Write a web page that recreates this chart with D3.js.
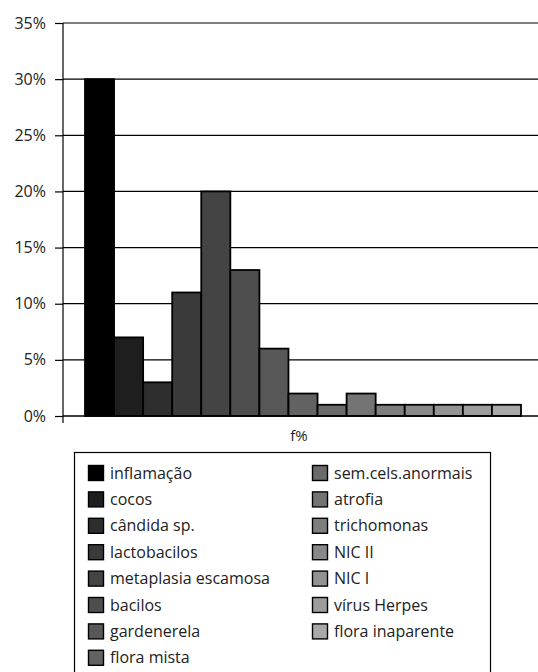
<!DOCTYPE html>
<html>
<head>
<meta charset="utf-8">
<script src="https://cdn.jsdelivr.net/npm/d3@7"></script>
<style>
  html, body { margin: 0; padding: 0; background: #fff; }
  svg { display: block; font-family: "Open Sans", "DejaVu Sans", sans-serif; }
</style>
</head>
<body>
<svg id="chart" width="538" height="672"></svg>
<script>
// Findings (percent of cases)
const categories = [
  "inflamação", "cocos", "cândida sp.", "lactobacilos", "metaplasia escamosa",
  "bacilos", "gardenerela", "flora mista", "sem.cels.anormais", "atrofia",
  "trichomonas", "NIC II", "NIC I", "vírus Herpes", "flora inaparente"
];
const values = [30, 7, 3, 11, 20, 13, 6, 2, 1, 2, 1, 1, 1, 1, 1];
const fills = [
  "#000000", "#1e1e1e", "#2e2e2e", "#3a3a3a", "#444444",
  "#4e4e4e", "#585858", "#626262", "#6a6a6a", "#747474",
  "#7e7e7e", "#898989", "#939393", "#9d9d9d", "#a8a8a8"
];
const yTicks = [0, 5, 10, 15, 20, 25, 30, 35];
const axisTitle = "f%";

const FONT = "'Open Sans', 'DejaVu Sans', sans-serif";
const svg = d3.select("#chart");
const plot = { left: 63, right: 538, top: 23, bottom: 416 };

const y = d3.scaleLinear().domain([0, 35]).range([plot.bottom, plot.top]);
const x = d3.scaleBand().domain(categories).range([85, 521]).padding(0);

// horizontal gridlines
svg.append("g")
  .selectAll("line")
  .data(yTicks.filter(t => t > 0))
  .join("line")
  .attr("x1", plot.left).attr("x2", plot.right)
  .attr("y1", d => y(d)).attr("y2", d => y(d))
  .attr("stroke", "#000").attr("stroke-width", 1.2);

// y axis
const yAxis = d3.axisLeft(y)
  .tickValues(yTicks)
  .tickFormat(d => d + "%")
  .tickSize(8)
  .tickPadding(9);
const gy = svg.append("g").attr("transform", `translate(${plot.left},0)`).call(yAxis);
gy.select(".domain").remove();
gy.selectAll(".tick line").attr("stroke", "#000").attr("stroke-width", 1.2);
gy.selectAll(".tick text")
  .attr("fill", "#222").style("font-size", "16px")
  .style("font-family", FONT);

svg.append("line")
  .attr("x1", plot.left).attr("x2", plot.left)
  .attr("y1", plot.top).attr("y2", plot.bottom + 7)
  .attr("stroke", "#000").attr("stroke-width", 1.2);

// bars
svg.append("g")
  .selectAll("rect")
  .data(categories)
  .join("rect")
  .attr("x", d => x(d))
  .attr("width", x.bandwidth())
  .attr("y", (d, i) => y(values[i]))
  .attr("height", (d, i) => y(0) - y(values[i]))
  .attr("fill", (d, i) => fills[i])
  .attr("stroke", "#000")
  .attr("stroke-width", 1.8);

// x axis line
svg.append("line")
  .attr("x1", plot.left).attr("x2", plot.right)
  .attr("y1", plot.bottom).attr("y2", plot.bottom)
  .attr("stroke", "#000").attr("stroke-width", 1.4);

svg.append("text")
  .attr("x", 299).attr("y", 441)
  .attr("text-anchor", "middle")
  .attr("fill", "#222").style("font-size", "15px")
  .text(axisTitle);

// legend
const legend = svg.append("g");
legend.append("rect")
  .attr("x", 74.5).attr("y", 452.5)
  .attr("width", 416).attr("height", 240)
  .attr("fill", "#fff").attr("stroke", "#000").attr("stroke-width", 1.2);

const rowH = 26.4;
const items = legend.selectAll("g.item")
  .data(categories)
  .join("g")
  .attr("class", "item")
  .attr("transform", (d, i) => {
    const col = i < 8 ? 0 : 1;
    const row = i < 8 ? i : i - 8;
    const lx = col === 0 ? 88 : 312;
    return `translate(${lx},${465 + row * rowH})`;
  });
items.append("rect")
  .attr("x", 0.5).attr("y", 0.5)
  .attr("width", 15).attr("height", 15)
  .attr("fill", (d, i) => fills[i])
  .attr("stroke", "#000").attr("stroke-width", 1.4);
items.append("text")
  .attr("x", 22).attr("y", 13.5)
  .attr("fill", "#222").style("font-size", "16px")
  .text(d => d);
</script>
</body>
</html>
